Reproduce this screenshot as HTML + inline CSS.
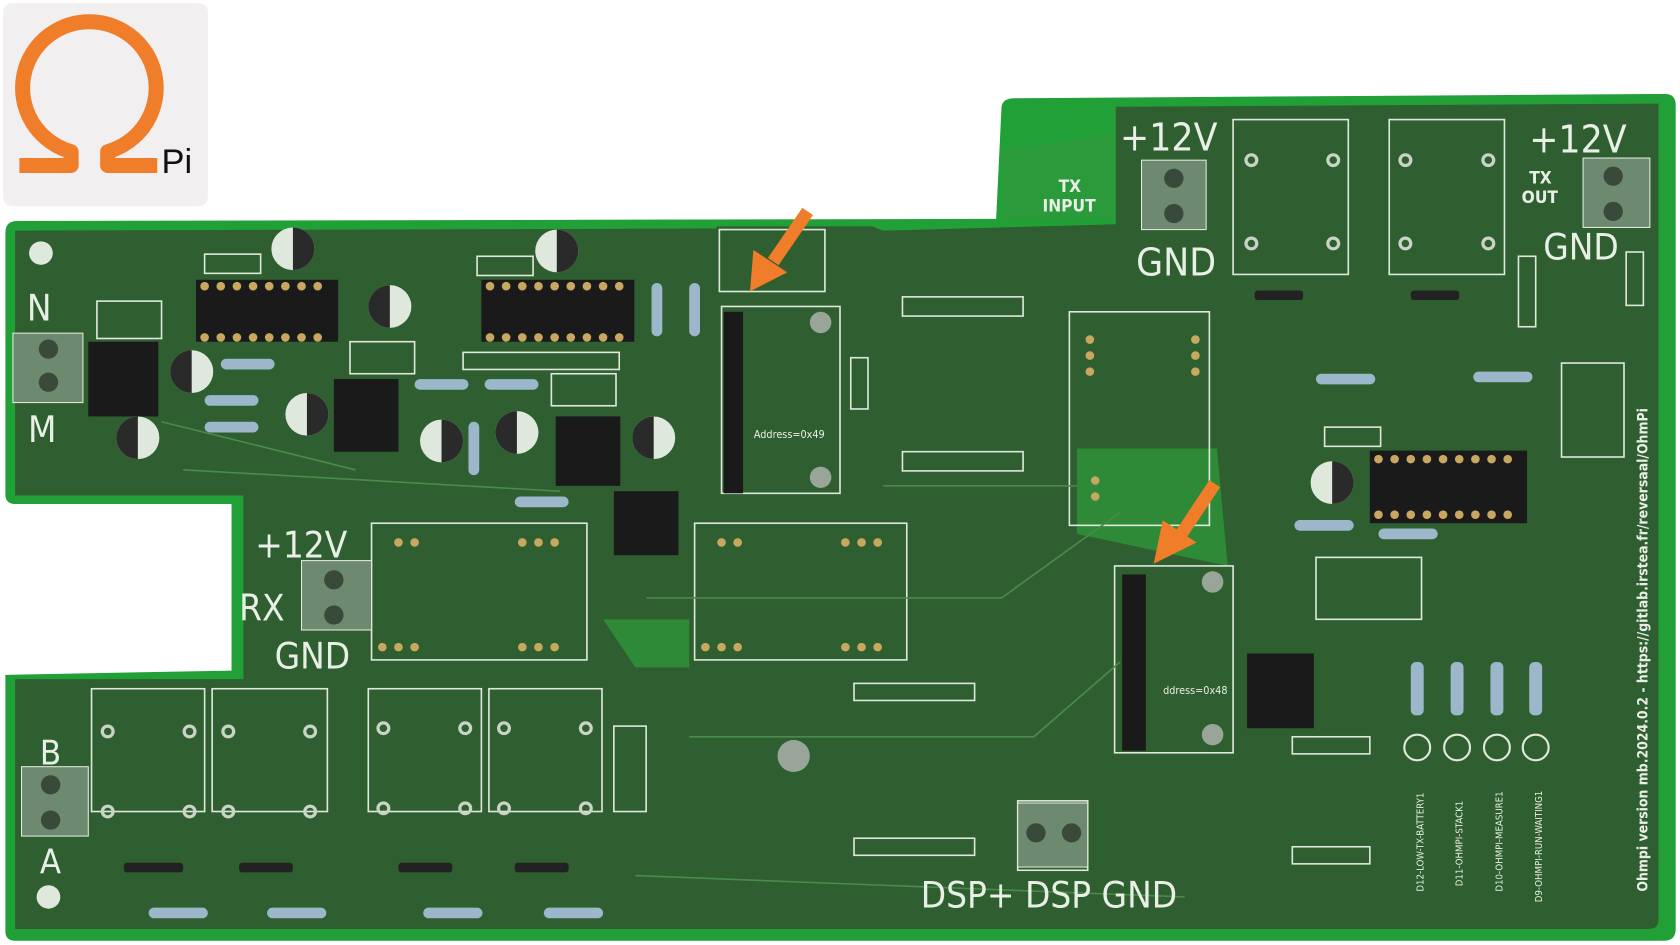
<!DOCTYPE html>
<html><head><meta charset="utf-8"><style>
html,body{margin:0;padding:0;background:#fff;width:1680px;height:945px;overflow:hidden}
svg{display:block}
text{font-family:"DejaVu Sans Condensed","Liberation Sans",sans-serif;fill:#e8efe6}
</style></head><body>
<svg width="1680" height="945" viewBox="0 0 1560 885" preserveAspectRatio="none">
<rect x="3" y="3" width="190" height="190" rx="8" fill="#f1efef"/>
<path d="M18,155 L66,155 L66,142 A62,62 0 1 1 100,142 L100,155 L146,155" fill="none" stroke="#f07d2a" stroke-width="14" stroke-linejoin="round"/>
<text x="150" y="162" font-size="32" style="fill:#111;font-family:'Liberation Sans',sans-serif">Pi</text>
<path d="M5,218 Q5,207 16,207 L925,205 L930,100 Q931,92 942,92 L1546,88 Q1556,88 1556,98 L1556,870 Q1556,881 1545,881 L14,881 Q5,881 5,872 L5,632 L215,628 L215,472 L14,472 Q5,472 5,463 Z" fill="#22a038"/>
<path d="M14,216 L665,214 L665,212 L810,212 L820,216 L1036,210 L1036,100 L1540,97 L1540,862 Q1540,870 1530,870 L14,870 L14,636 L226,636 L226,464 L14,464 Z" fill="#2f5f30"/>
<path d="M560,580 L640,580 L640,625 L590,625 Z" fill="#2f8a38"/>
<path d="M1000,420 L1130,420 L1140,530 L1000,500 Z" fill="#2f8a38"/>
<path d="M930,140 L1036,125 L1036,205 L930,205 Z" fill="#2a9a3a"/>
<g fill="none" stroke="#dfe8dc" stroke-width="1.5">
<rect x="345" y="490" width="200" height="128"/><rect x="645" y="490" width="197" height="128"/>
<rect x="85" y="645" width="105" height="115"/><rect x="197" y="645" width="107" height="115"/>
<rect x="342" y="645" width="105" height="115"/><rect x="454" y="645" width="105" height="115"/>
<rect x="1145" y="112" width="107" height="145"/><rect x="1290" y="112" width="107" height="145"/>
<rect x="993" y="292" width="130" height="200"/><rect x="670" y="287" width="110" height="175"/>
<rect x="1035" y="530" width="110" height="175"/><rect x="668" y="215" width="98" height="58"/>
<rect x="90" y="282" width="60" height="35"/><rect x="325" y="320" width="60" height="30"/>
<rect x="512" y="350" width="60" height="30"/><rect x="1450" y="340" width="58" height="88"/>
<rect x="1222" y="522" width="98" height="58"/><rect x="570" y="680" width="30" height="80"/>
<rect x="838" y="278" width="112" height="18"/><rect x="838" y="423" width="112" height="18"/>
<rect x="793" y="640" width="112" height="16"/><rect x="793" y="785" width="112" height="16"/>
<rect x="1200" y="690" width="72" height="16"/><rect x="1200" y="793" width="72" height="16"/>
<rect x="1410" y="240" width="16" height="66"/><rect x="1510" y="236" width="16" height="50"/>
<rect x="945" y="750" width="65" height="65"/><rect x="430" y="330" width="145" height="16"/>
<rect x="190" y="238" width="52" height="18"/><rect x="443" y="240" width="52" height="18"/>
<rect x="1230" y="400" width="52" height="18"/><rect x="790" y="335" width="16" height="48"/>
<path d="M170,440 L520,460 M820,455 L1000,455 M600,560 L930,560 L1040,480 M640,690 L960,690 L1040,620 M590,820 L1100,840 M150,395 L330,440" stroke="#4a8a4a"/>
</g>
<g fill="none" stroke="#c9d4c6" stroke-width="3">
<circle cx="1162" cy="150" r="5"/><circle cx="1238" cy="150" r="5"/><circle cx="1162" cy="228" r="5"/><circle cx="1238" cy="228" r="5"/>
<circle cx="1305" cy="150" r="5"/><circle cx="1382" cy="150" r="5"/><circle cx="1305" cy="228" r="5"/><circle cx="1382" cy="228" r="5"/>
<circle cx="100" cy="685" r="5"/><circle cx="176" cy="685" r="5"/><circle cx="100" cy="760" r="5"/><circle cx="176" cy="760" r="5"/>
<circle cx="212" cy="685" r="5"/><circle cx="288" cy="685" r="5"/><circle cx="212" cy="760" r="5"/><circle cx="288" cy="760" r="5"/>
<circle cx="356" cy="682" r="5"/><circle cx="432" cy="682" r="5"/><circle cx="356" cy="757" r="5"/><circle cx="432" cy="757" r="5"/>
<circle cx="468" cy="682" r="5"/><circle cx="544" cy="682" r="5"/><circle cx="468" cy="757" r="5"/><circle cx="544" cy="757" r="5"/>
</g>
<g fill="#1a1a1a">
<rect x="672" y="292" width="18" height="170"/><rect x="1042" y="538" width="22" height="165"/>
<rect x="182" y="262" width="132" height="58"/><rect x="447" y="262" width="142" height="58"/>
<rect x="1272" y="422" width="146" height="68"/><rect x="82" y="320" width="65" height="70"/>
<rect x="310" y="355" width="60" height="68"/><rect x="516" y="390" width="60" height="65"/>
<rect x="570" y="460" width="60" height="60"/><rect x="1158" y="612" width="62" height="70"/>
</g>
<g fill="#c8a860">
<circle cx="190" cy="268" r="4"/><circle cx="205" cy="268" r="4"/><circle cx="220" cy="268" r="4"/><circle cx="235" cy="268" r="4"/><circle cx="250" cy="268" r="4"/><circle cx="265" cy="268" r="4"/><circle cx="280" cy="268" r="4"/><circle cx="295" cy="268" r="4"/>
<circle cx="190" cy="316" r="4"/><circle cx="205" cy="316" r="4"/><circle cx="220" cy="316" r="4"/><circle cx="235" cy="316" r="4"/><circle cx="250" cy="316" r="4"/><circle cx="265" cy="316" r="4"/><circle cx="280" cy="316" r="4"/><circle cx="295" cy="316" r="4"/>
<circle cx="455" cy="268" r="4"/><circle cx="470" cy="268" r="4"/><circle cx="485" cy="268" r="4"/><circle cx="500" cy="268" r="4"/><circle cx="515" cy="268" r="4"/><circle cx="530" cy="268" r="4"/><circle cx="545" cy="268" r="4"/><circle cx="560" cy="268" r="4"/><circle cx="575" cy="268" r="4"/>
<circle cx="455" cy="316" r="4"/><circle cx="470" cy="316" r="4"/><circle cx="485" cy="316" r="4"/><circle cx="500" cy="316" r="4"/><circle cx="515" cy="316" r="4"/><circle cx="530" cy="316" r="4"/><circle cx="545" cy="316" r="4"/><circle cx="560" cy="316" r="4"/><circle cx="575" cy="316" r="4"/>
<circle cx="1280" cy="430" r="4"/><circle cx="1295" cy="430" r="4"/><circle cx="1310" cy="430" r="4"/><circle cx="1325" cy="430" r="4"/><circle cx="1340" cy="430" r="4"/><circle cx="1355" cy="430" r="4"/><circle cx="1370" cy="430" r="4"/><circle cx="1385" cy="430" r="4"/><circle cx="1400" cy="430" r="4"/>
<circle cx="1280" cy="482" r="4"/><circle cx="1295" cy="482" r="4"/><circle cx="1310" cy="482" r="4"/><circle cx="1325" cy="482" r="4"/><circle cx="1340" cy="482" r="4"/><circle cx="1355" cy="482" r="4"/><circle cx="1370" cy="482" r="4"/><circle cx="1385" cy="482" r="4"/><circle cx="1400" cy="482" r="4"/>
<circle cx="370" cy="508" r="4"/><circle cx="385" cy="508" r="4"/><circle cx="485" cy="508" r="4"/><circle cx="500" cy="508" r="4"/><circle cx="515" cy="508" r="4"/>
<circle cx="355" cy="606" r="4"/><circle cx="370" cy="606" r="4"/><circle cx="385" cy="606" r="4"/><circle cx="485" cy="606" r="4"/><circle cx="500" cy="606" r="4"/><circle cx="515" cy="606" r="4"/>
<circle cx="670" cy="508" r="4"/><circle cx="685" cy="508" r="4"/><circle cx="785" cy="508" r="4"/><circle cx="800" cy="508" r="4"/><circle cx="815" cy="508" r="4"/>
<circle cx="655" cy="606" r="4"/><circle cx="670" cy="606" r="4"/><circle cx="685" cy="606" r="4"/><circle cx="785" cy="606" r="4"/><circle cx="800" cy="606" r="4"/><circle cx="815" cy="606" r="4"/>
<circle cx="1012" cy="318" r="4"/><circle cx="1012" cy="333" r="4"/><circle cx="1012" cy="348" r="4"/><circle cx="1110" cy="318" r="4"/><circle cx="1110" cy="333" r="4"/><circle cx="1110" cy="348" r="4"/>
<circle cx="1017" cy="450" r="4"/><circle cx="1017" cy="465" r="4"/>
</g>
<g fill="#dfe8dc">
<circle cx="38" cy="237" r="11"/><circle cx="45" cy="840" r="11"/>
<circle cx="737" cy="708" r="15" fill="#9aa59a"/><circle cx="762" cy="302" r="10" fill="#9aa59a"/><circle cx="762" cy="447" r="10" fill="#9aa59a"/>
<circle cx="1126" cy="545" r="10" fill="#9aa59a"/><circle cx="1126" cy="688" r="10" fill="#9aa59a"/>
<circle cx="272" cy="233" r="20"/><circle cx="517" cy="235" r="20"/><circle cx="362" cy="287" r="20"/><circle cx="178" cy="348" r="20"/><circle cx="128" cy="410" r="20"/><circle cx="285" cy="388" r="20"/><circle cx="410" cy="413" r="20"/><circle cx="480" cy="405" r="20"/><circle cx="607" cy="410" r="20"/><circle cx="1237" cy="452" r="20"/>
</g>
<g fill="#2a2a2a">
<path d="M272,213 A20,20 0 0 1 272,253 Z"/><path d="M517,215 A20,20 0 0 1 517,255 Z"/><path d="M362,267 A20,20 0 0 0 362,307 Z"/><path d="M178,328 A20,20 0 0 0 178,368 Z"/><path d="M128,390 A20,20 0 0 0 128,430 Z"/><path d="M285,368 A20,20 0 0 1 285,408 Z"/><path d="M410,393 A20,20 0 0 1 410,433 Z"/><path d="M480,385 A20,20 0 0 0 480,425 Z"/><path d="M607,390 A20,20 0 0 0 607,430 Z"/><path d="M1237,432 A20,20 0 0 1 1237,472 Z"/>
</g>
<g fill="#9bb7c9">
<rect x="205" y="336" width="50" height="10" rx="5"/><rect x="190" y="370" width="50" height="10" rx="5"/><rect x="190" y="395" width="50" height="10" rx="5"/>
<rect x="385" y="355" width="50" height="10" rx="5"/><rect x="450" y="355" width="50" height="10" rx="5"/><rect x="478" y="465" width="50" height="10" rx="5"/>
<rect x="1222" y="350" width="55" height="10" rx="5"/><rect x="1368" y="348" width="55" height="10" rx="5"/><rect x="1202" y="487" width="55" height="10" rx="5"/><rect x="1280" y="495" width="55" height="10" rx="5"/>
<rect x="138" y="850" width="55" height="10" rx="5"/><rect x="248" y="850" width="55" height="10" rx="5"/><rect x="393" y="850" width="55" height="10" rx="5"/><rect x="505" y="850" width="55" height="10" rx="5"/>
<rect x="605" y="265" width="10" height="50" rx="5"/><rect x="640" y="265" width="10" height="50" rx="5"/><rect x="435" y="395" width="10" height="50" rx="5"/>
<rect x="1310" y="620" width="12" height="50" rx="5"/><rect x="1347" y="620" width="12" height="50" rx="5"/><rect x="1384" y="620" width="12" height="50" rx="5"/><rect x="1420" y="620" width="12" height="50" rx="5"/>
</g>
<g fill="none" stroke="#dfe8dc" stroke-width="2"><circle cx="1316" cy="700" r="12"/><circle cx="1353" cy="700" r="12"/><circle cx="1390" cy="700" r="12"/><circle cx="1426" cy="700" r="12"/></g>
<g fill="#222"><rect x="1165" y="272" width="45" height="9" rx="3"/><rect x="1310" y="272" width="45" height="9" rx="3"/><rect x="115" y="808" width="55" height="9" rx="3"/><rect x="222" y="808" width="50" height="9" rx="3"/><rect x="370" y="808" width="50" height="9" rx="3"/><rect x="478" y="808" width="50" height="9" rx="3"/></g>
<g fill="#6d8a70" stroke="#dfe8dc"><rect x="12" y="312" width="65" height="65"/><rect x="1060" y="150" width="60" height="65"/><rect x="1470" y="148" width="62" height="65"/><rect x="280" y="525" width="65" height="65"/><rect x="20" y="718" width="62" height="65"/><rect x="945" y="752" width="65" height="60"/></g>
<g fill="#3a4a3a"><circle cx="45" cy="327" r="9"/><circle cx="45" cy="358" r="9"/><circle cx="1090" cy="167" r="9"/><circle cx="1090" cy="200" r="9"/><circle cx="1498" cy="165" r="9"/><circle cx="1498" cy="198" r="9"/><circle cx="310" cy="543" r="9"/><circle cx="310" cy="576" r="9"/><circle cx="47" cy="735" r="9"/><circle cx="47" cy="768" r="9"/><circle cx="962" cy="780" r="9"/><circle cx="995" cy="780" r="9"/></g>
<g stroke="#f07d2a" stroke-width="12" fill="#f07d2a">
<line x1="750" y1="198" x2="718" y2="245"/><polygon points="697,272 700,235 730,255" stroke-width="1"/>
<line x1="1128" y1="453" x2="1097" y2="500"/><polygon points="1072,527 1080,488 1110,508" stroke-width="1"/>
</g>
<text x="1040" y="141" font-size="36">+12V</text>
<text x="1420" y="143" font-size="36">+12V</text>
<text x="1055" y="258" font-size="36">GND</text>
<text x="1433" y="243" font-size="34">GND</text>
<text x="237" y="522" font-size="34">+12V</text>
<text x="222" y="581" font-size="34">RX</text>
<text x="255" y="626" font-size="34">GND</text>
<text x="25" y="300" font-size="34">N</text>
<text x="26" y="414" font-size="34">M</text>
<text x="37" y="716" font-size="32">B</text>
<text x="37" y="818" font-size="32">A</text>
<text x="855" y="850" font-size="34">DSP+  DSP  GND</text>
<text x="983" y="180" font-size="16" font-weight="bold">TX</text>
<text x="968" y="198" font-size="16" font-weight="bold">INPUT</text>
<text x="1420" y="172" font-size="16" font-weight="bold">TX</text>
<text x="1413" y="190" font-size="16" font-weight="bold">OUT</text>
<text x="700" y="410" font-size="10">Address=0x49</text>
<text x="1080" y="650" font-size="10">ddress=0x48</text>
<text transform="translate(1530,835) rotate(-90)" font-size="13" font-weight="bold">Ohmpi version mb.2024.0.2 - https://gitlab.irstea.fr/reversaal/OhmPi</text>
<text transform="translate(1322,835) rotate(-90)" font-size="9">D12-LOW-TX-BATTERY1</text>
<text transform="translate(1358,830) rotate(-90)" font-size="9">D11-OHMPI-STACK1</text>
<text transform="translate(1395,835) rotate(-90)" font-size="9">D10-OHMPI-MEASURE1</text>
<text transform="translate(1432,845) rotate(-90)" font-size="9">D9-OHMPI-RUN-WAITING1</text>
</svg>
</body></html>
